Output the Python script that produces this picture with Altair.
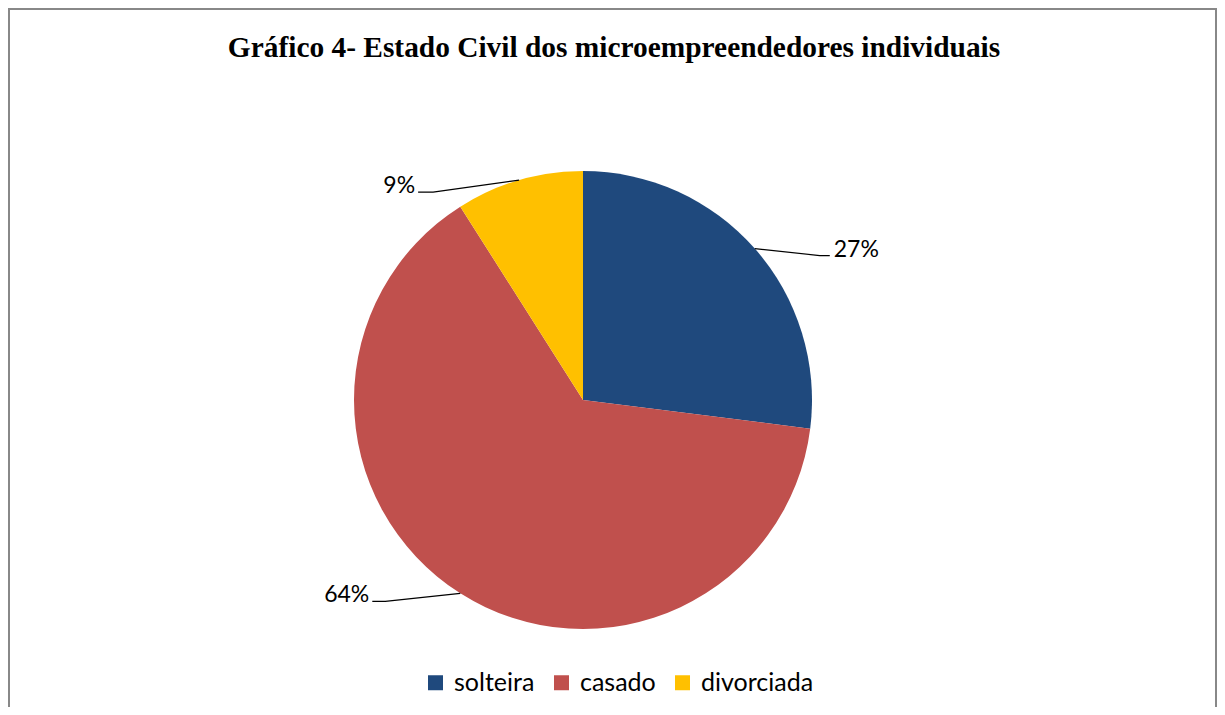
import altair as alt
import pandas as pd
import numpy as np

# ---- data ----
categories = ["solteira", "casado", "divorciada"]
values = [27, 64, 9]
labels = ["27%", "64%", "9%"]
colors = ["#1F497D", "#C0504D", "#FFC000"]

# ---- layout ----
W, H = 1209, 699
CX, CY, R = 575, 392, 229
# leader-line elbow offsets (dx, dy) from the arc point and horizontal tail length
LEADER = {"solteira": (65, 7, 10), "casado": (-75, 8, -13), "divorciada": (-86, 12, -15)}

df = pd.DataFrame({"cat": categories, "val": values, "lab": labels, "idx": range(len(categories))})

total = float(sum(values))
cum = np.cumsum(values)
mid = (cum - np.array(values) / 2) / total * 2 * np.pi
ax_ = CX + R * np.sin(mid)
ay_ = CY - R * np.cos(mid)

line_rows, text_rows = [], []
for c, l, x0, y0 in zip(categories, labels, ax_, ay_):
    dx, dy, hx = LEADER[c]
    ex, ey = x0 + dx, y0 + dy
    tx = ex + hx
    line_rows += [
        {"cat": c, "s": 0, "px": x0, "py": y0},
        {"cat": c, "s": 1, "px": ex, "py": ey},
        {"cat": c, "s": 2, "px": tx, "py": ey},
    ]
    right = hx > 0
    text_rows.append({"cat": c, "lab": l, "px": tx + (4 if right else -3), "py": ey + 1,
                      "al": "left" if right else "right"})
ldf = pd.DataFrame(line_rows)
tdf = pd.DataFrame(text_rows)

color_scale = alt.Scale(domain=categories, range=colors)

pie = alt.Chart(df).mark_arc(outerRadius=R).encode(
    theta=alt.Theta("val:Q", stack=True),
    order=alt.Order("idx:Q"),
    color=alt.Color("cat:N", scale=color_scale, sort=categories,
                    legend=alt.Legend(title=None, orient="none", direction="horizontal",
                                      legendX=415, legendY=662, symbolType="square",
                                      symbolSize=225, symbolStrokeWidth=0,
                                      labelFont="Lato", labelFontSize=25, labelColor="#000000",
                                      labelOffset=6, columnPadding=14, padding=0)),
    x=alt.value(CX), y=alt.value(CY),
)

leaders = alt.Chart(ldf).mark_line(color="#000000", strokeWidth=1.2).encode(
    x=alt.X("px:Q", scale=None, axis=None),
    y=alt.Y("py:Q", scale=None, axis=None),
    detail="cat:N",
    order="s:Q",
)

def text_layer(align):
    return alt.Chart(tdf[tdf["al"] == align]).mark_text(
        font="Lato", fontSize=23, color="#000000", align=align, baseline="alphabetic"
    ).encode(
        x=alt.X("px:Q", scale=None, axis=None),
        y=alt.Y("py:Q", scale=None, axis=None),
        text="lab:N",
    )

title = alt.Chart(pd.DataFrame({"t": ["Gráfico 4- Estado Civil dos microempreendedores individuais"]})).mark_text(
    font="Liberation Serif", fontSize=29.4, fontWeight="bold", color="#000000",
    align="center", baseline="alphabetic"
).encode(x=alt.value(606), y=alt.value(49), text="t:N")

border = alt.Chart(pd.DataFrame({"a": [0]})).mark_rule(color="#888888", strokeWidth=2)
b_top = border.encode(x=alt.value(0), x2=alt.value(W), y=alt.value(1))
b_left = border.encode(x=alt.value(1), y=alt.value(0), y2=alt.value(H))
b_right = border.encode(x=alt.value(W - 1), y=alt.value(0), y2=alt.value(H))

chart = alt.layer(b_top, b_left, b_right, pie, leaders, text_layer("left"), text_layer("right"), title).properties(
    width=W, height=H, padding=0, autosize=alt.AutoSizeParams(type="none")
).configure_view(stroke=None)

chart.save("out.html", embed_options={"renderer": "svg", "actions": False})
